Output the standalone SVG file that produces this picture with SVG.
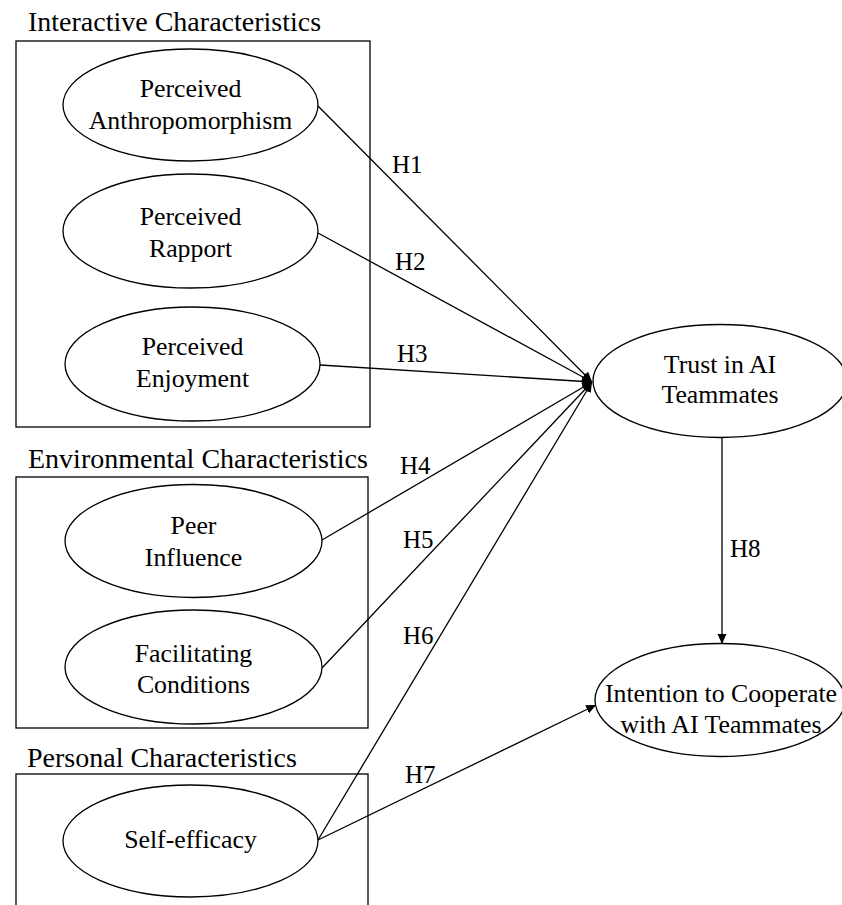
<svg xmlns="http://www.w3.org/2000/svg" width="842" height="905" viewBox="0 0 842 905">
<defs>
<marker id="arr" markerUnits="userSpaceOnUse" markerWidth="12" markerHeight="12" refX="10" refY="4.5" orient="auto">
<path d="M0,0 L10,4.5 L0,9 z" fill="#000"/>
</marker>
<style>
.box{fill:none;stroke:#000;stroke-width:1.3}
.node ellipse{fill:#fff;stroke:#000;stroke-width:1.3}
.t{font-family:"Liberation Serif","Times New Roman",serif;font-size:25.8px;fill:#000;text-anchor:middle}
.hd{font-family:"Liberation Serif","Times New Roman",serif;font-size:28px;fill:#000}
.lb{font-family:"Liberation Serif","Times New Roman",serif;font-size:25px;fill:#000}
.c line{stroke:#000;stroke-width:1.3;marker-end:url(#arr)}
</style>
</defs>
<rect width="842" height="905" fill="#fff"/>
<g id="groups">
<text class="hd" x="28" y="31">Interactive Characteristics</text>
<rect class="box" x="16" y="41" width="354" height="386"/>
<text class="hd" x="28" y="468">Environmental Characteristics</text>
<rect class="box" x="16" y="477" width="352" height="251"/>
<text class="hd" x="27" y="767">Personal Characteristics</text>
<rect class="box" x="16" y="774" width="352" height="140"/>
</g>
<g class="c" id="connectors">
<line x1="318" y1="106" x2="592" y2="382"/>
<line x1="318" y1="233" x2="592" y2="382"/>
<line x1="320" y1="365" x2="592" y2="382"/>
<line x1="322" y1="540" x2="592" y2="382"/>
<line x1="322" y1="668" x2="592" y2="382"/>
<line x1="318" y1="840" x2="592" y2="382"/>
<line x1="318" y1="840" x2="596" y2="705"/>
<line x1="722" y1="438" x2="722" y2="644"/>
<text class="lb" x="392" y="173">H1</text>
<text class="lb" x="395" y="270">H2</text>
<text class="lb" x="397" y="362">H3</text>
<text class="lb" x="400" y="474">H4</text>
<text class="lb" x="403" y="548">H5</text>
<text class="lb" x="403" y="644">H6</text>
<text class="lb" x="405" y="783">H7</text>
<text class="lb" x="730" y="557">H8</text>
</g>
<g class="node" id="anthropomorphism">
<ellipse cx="190.5" cy="105" rx="127.5" ry="56"/>
<text class="t" x="190.5" y="97">Perceived</text>
<text class="t" x="190.5" y="129">Anthropomorphism</text>
</g>
<g class="node" id="rapport">
<ellipse cx="190.5" cy="231" rx="127.5" ry="57"/>
<text class="t" x="190.5" y="225">Perceived</text>
<text class="t" x="190.5" y="257">Rapport</text>
</g>
<g class="node" id="enjoyment">
<ellipse cx="192.5" cy="364" rx="127.5" ry="57"/>
<text class="t" x="192.5" y="355">Perceived</text>
<text class="t" x="192.5" y="387">Enjoyment</text>
</g>
<g class="node" id="peer">
<ellipse cx="193.5" cy="541" rx="128.5" ry="56.5"/>
<text class="t" x="193.5" y="534">Peer</text>
<text class="t" x="193.5" y="566">Influence</text>
</g>
<g class="node" id="facilitating">
<ellipse cx="193.5" cy="667" rx="128.5" ry="57"/>
<text class="t" x="193.5" y="662">Facilitating</text>
<text class="t" x="193.5" y="693">Conditions</text>
</g>
<g class="node" id="selfefficacy">
<ellipse cx="190.5" cy="841" rx="127.5" ry="56"/>
<text class="t" x="190.5" y="848">Self-efficacy</text>
</g>
<g class="node" id="trust">
<ellipse cx="720" cy="381" rx="127" ry="56.5"/>
<text class="t" x="720" y="373">Trust in AI</text>
<text class="t" x="720" y="403">Teammates</text>
</g>
<g class="node" id="intention">
<ellipse cx="720" cy="700" rx="125" ry="56.5"/>
<text class="t" x="721" y="702">Intention to Cooperate</text>
<text class="t" x="721" y="733">with AI Teammates</text>
</g>
</svg>
